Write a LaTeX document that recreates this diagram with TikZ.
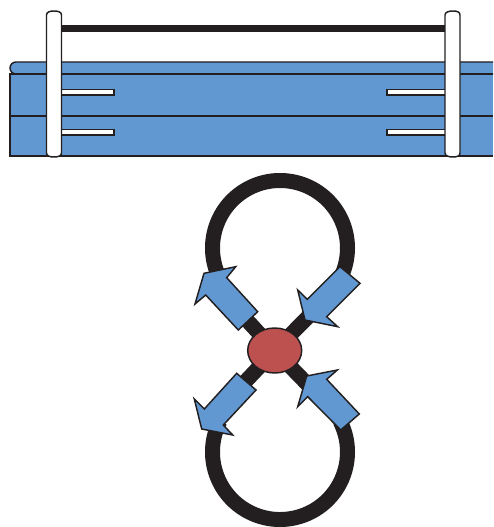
\documentclass[tikz,border=0pt]{standalone}
\usetikzlibrary{shapes.geometric,backgrounds}
\definecolor{bandblue}{HTML}{6198D2}
\definecolor{inkblack}{HTML}{231F20}
\definecolor{hubred}{HTML}{BC5150}
\tikzset{
  x=0.75pt,y=-0.75pt,
  outline/.style={draw=inkblack,line width=1.1pt,line join=miter},
  white part/.style={outline,fill=white},
  wire/.style={draw=inkblack,line width=11.25pt,line cap=butt},
  arrow part/.style={outline,fill=bandblue},
  hub part/.style={ellipse,draw=inkblack,line width=1.1pt,fill=hubred,inner sep=0pt,minimum width=40.5pt,minimum height=33.75pt},
}
\begin{document}
\begin{tikzpicture}
\useasboundingbox (0,0) rectangle (493,527);
% band
\fill[bandblue] (493,62) -- (16,62) arc[start angle=270,end angle=90,radius=6] -- (493,74) -- cycle;
\draw[outline] (493,62) -- (16,62) arc[start angle=270,end angle=90,radius=6] -- (493,74);
\fill[bandblue] (10,74) rectangle (493,156);
\draw[outline] (493,74) -- (10,74) -- (10,156) -- (493,156);
\draw[outline] (10,116) -- (493,116);
% slots
\draw[white part] (55,89.5) rectangle (114,95);
\draw[white part] (55,129.5) rectangle (114,135);
\draw[white part] (387,89.5) rectangle (450,95);
\draw[white part] (387,129.5) rectangle (450,135);
% bar
\draw[draw=inkblack,line width=4.8pt] (58,28.5) -- (448,28.5);
% posts
\draw[white part] (46.5,15) .. controls (46.5,12) and (50,11) .. (54,11) .. controls (58,11) and (61.5,12) .. (61.5,15) -- (61.5,153) .. controls (61.5,156) and (58,157) .. (54,157) .. controls (50,157) and (46.5,156) .. (46.5,153) -- cycle;
\draw[white part] (445,15) .. controls (445,12) and (449,11) .. (453,11) .. controls (457,11) and (460,12) .. (460,15) -- (460,153) .. controls (460,156) and (457,157) .. (453,157) .. controls (449,157) and (445,156) .. (445,153) -- cycle;
% hub
\node[hub part] (hub) at (274.7,350.5) {};
\coordinate (tl) at (245,318);
\coordinate (tr) at (315,310);
\coordinate (bl) at (245,382);
\coordinate (br) at (315,392);
\begin{scope}[on background layer]
\draw[wire] (280,248) ++(153:67.5) arc[start angle=153,end angle=387,radius=67.5];
\draw[wire] (280,452) ++(207:67.5) arc[start angle=207,end angle=-27,radius=67.5];
\draw[wire] (hub.center) -- (tl);
\draw[wire] (hub.center) -- (tr);
\draw[wire] (hub.center) -- (bl);
\draw[wire] (hub.center) -- (br);
\end{scope}
% arrows
\draw[arrow part] (235.7,266.7) .. controls (220.5,270.7) .. (204,273.3) .. controls (200.2,289.3) .. (195,304) -- (205.7,295) -- (238.3,330) -- (257.7,311.7) -- (226.7,277.7) -- cycle;
\draw[arrow part] (340,266.7) -- (360,283.3) -- (326.7,316.7) -- (337.7,326.7) .. controls (322,322.6) .. (305,320) .. controls (302,304.3) .. (297.7,290) -- (307.3,299.3) -- cycle;
\draw[arrow part] (236.7,373.3) -- (256,390) -- (223.3,425) -- (232.7,435) .. controls (217.9,431.3) .. (201.7,429) .. controls (198.7,413.3) .. (194.3,399) -- (204.3,409) -- cycle;
\draw[arrow part] (337.3,370) .. controls (322.7,373.7) .. (306.7,376) .. controls (302.9,392) .. (297.7,406.7) -- (307.7,396.7) -- (340.7,430) -- (359.3,414) -- (326.7,379.3) -- cycle;
\end{tikzpicture}
\end{document}
